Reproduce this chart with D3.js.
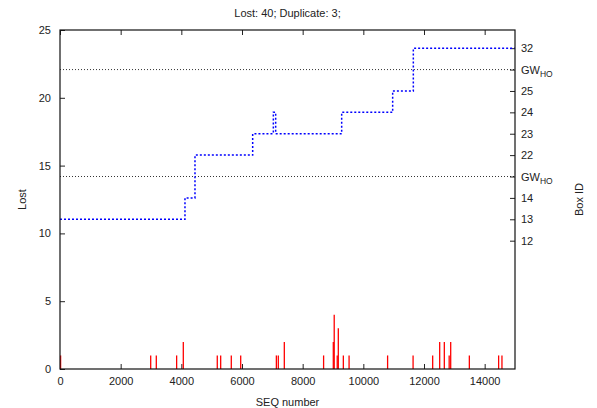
<!DOCTYPE html>
<html>
<head>
<meta charset="utf-8">
<script src="https://cdn.jsdelivr.net/npm/d3@7"></script>
<style>
  body { margin: 0; background: #fff; }
  text { font-family: "Liberation Sans", Arial, sans-serif; font-size: 11px; fill: #222; }
</style>
</head>
<body>
<div id="chart"></div>
<script>
// lost packets per SEQ number (impulses)
const lostSeq = [20, 2990, 3175, 3845, 4065, 5185, 5297, 5647, 5957, 7133, 7197, 7395,
    8690, 9010, 9040, 9140, 9175, 9341, 9530, 10800, 11640, 12286, 12517, 12670,
    12830, 12880, 13495, 14460, 14570];
const lostCount = [1, 1, 1, 1, 2, 1, 1, 1, 1, 1, 1, 2,
    1, 2, 4, 1, 3, 1, 1, 1, 1, 1, 2, 2,
    1, 2, 1, 1, 1];

// box ID over SEQ number (step line)
const stepSeq = [0, 4120, 4450, 6352, 7033, 7110, 9286, 10967, 11648, 15000];
const stepBox = ["13", "14", "22", "23", "24", "23", "24", "25", "32", "32"];

// right axis tick labels, evenly spaced
const boxTicks = ["12", "13", "14", "GW_HO", "22", "23", "24", "25", "GW_HO", "32"];

const xTicks = d3.range(0, 15000, 2000);
const yTicks = d3.range(0, 26, 5);

const margin = { top: 30, right: 82, bottom: 39, left: 60 },
    width = 597 - margin.left - margin.right,
    height = 408 - margin.top - margin.bottom;

const svg = d3.select("#chart").append("svg")
    .attr("width", 597)
    .attr("height", 408)
    .append("g")
    .attr("transform", "translate(" + margin.left + "," + margin.top + ")");

const x = d3.scaleLinear().domain([0, 15000]).range([0, width]);
const y = d3.scaleLinear().domain([0, 25]).range([height, 0]);
const y2 = d3.scaleLinear().domain([-6, 9.85]).range([height, 0]);

// axes, ticks pointing inward
svg.append("g")
    .attr("transform", "translate(0," + height + ")")
    .call(d3.axisBottom(x).tickValues(xTicks).tickSize(-5).tickPadding(8).tickFormat(d3.format("d")));

svg.append("g")
    .call(d3.axisTop(x).tickValues(xTicks).tickSize(-5).tickFormat(""));

svg.append("g")
    .call(d3.axisLeft(y).tickValues(yTicks).tickSize(-5).tickPadding(9));

const rightAxis = svg.append("g")
    .attr("transform", "translate(" + width + ",0)")
    .call(d3.axisRight(y2).tickValues(d3.range(boxTicks.length)).tickSize(-5).tickPadding(6)
        .tickFormat(""));

rightAxis.selectAll(".tick text").each(function(d) {
    const t = d3.select(this);
    const lab = boxTicks[d];
    if (lab.indexOf("_") > 0) {
        const parts = lab.split("_");
        t.append("tspan").text(parts[0]);
        t.append("tspan").attr("dy", "3").style("font-size", "8.5px").text(parts[1]);
    } else {
        t.text(lab);
    }
});

svg.selectAll(".domain").remove();
svg.selectAll(".tick line").attr("stroke", "#222");

// GW_HO reference lines
boxTicks.forEach((b, i) => {
    if (b === "GW_HO") {
        svg.append("line")
            .attr("x1", 0).attr("x2", width)
            .attr("y1", y2(i)).attr("y2", y2(i))
            .attr("stroke", "#000")
            .attr("stroke-width", 0.8)
            .attr("stroke-dasharray", "1,2");
    }
});

// lost impulses
svg.selectAll(".imp")
    .data(lostSeq)
    .enter().append("line")
    .attr("class", "imp")
    .attr("x1", d => x(d)).attr("x2", d => x(d))
    .attr("y1", y(0))
    .attr("y2", (d, i) => y(lostCount[i]))
    .attr("stroke", "#ff0000")
    .attr("stroke-width", 1.3);

// box id step line
const stepData = stepSeq.map((s, i) => ({ seq: s, idx: boxTicks.indexOf(stepBox[i]) }));
const line = d3.line()
    .x(d => x(d.seq))
    .y(d => y2(d.idx))
    .curve(d3.curveStepAfter);

svg.append("path")
    .datum(stepData)
    .attr("fill", "none")
    .attr("stroke", "#0000ff")
    .attr("stroke-width", 1.5)
    .attr("stroke-dasharray", "2,2")
    .attr("d", line);

// frame
svg.append("rect")
    .attr("width", width).attr("height", height)
    .attr("fill", "none")
    .attr("stroke", "#111")
    .attr("stroke-width", 1.2);

// titles
svg.append("text")
    .attr("x", width / 2).attr("y", -13)
    .attr("text-anchor", "middle")
    .text("Lost: 40; Duplicate: 3;");

svg.append("text")
    .attr("x", width / 2).attr("y", height + 37)
    .attr("text-anchor", "middle")
    .text("SEQ number");

svg.append("text")
    .attr("transform", "translate(-34," + (height / 2) + ") rotate(-90)")
    .attr("text-anchor", "middle")
    .text("Lost");

svg.append("text")
    .attr("transform", "translate(" + (width + 68) + "," + (height / 2) + ") rotate(-90)")
    .attr("text-anchor", "middle")
    .text("Box ID");
</script>
</body>
</html>
